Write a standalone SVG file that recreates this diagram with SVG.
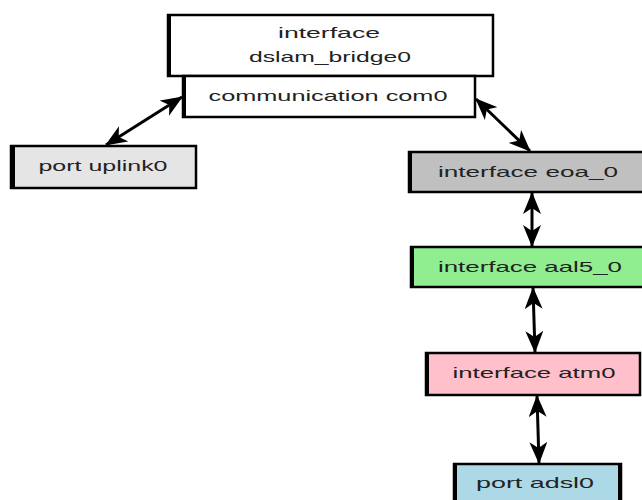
<svg xmlns="http://www.w3.org/2000/svg" width="642" height="500" viewBox="0 0 642 500">
<defs>
<marker id="ah" viewBox="0 0 22 18" refX="21" refY="9" markerWidth="22" markerHeight="18" markerUnits="userSpaceOnUse" orient="auto-start-reverse">
<path d="M0,0 L22,9 L0,18 L6,9 z" fill="#000"/>
</marker>
<style>
.box{stroke:#000;stroke-width:2.5}
.sh{stroke:#000;stroke-width:4}
.t{font-family:"Liberation Sans",Arial,sans-serif;font-size:15px;fill:#222;text-anchor:middle}
.c{stroke:#000;stroke-width:3;fill:none;marker-start:url(#ah);marker-end:url(#ah)}
</style>
</defs>
<rect width="642" height="500" fill="#fff"/>
<g id="connectors">
<line class="c" x1="182" y1="97" x2="106" y2="145"/>
<line class="c" x1="476" y1="99" x2="530" y2="151"/>
<line class="c" x1="532" y1="193" x2="532" y2="246"/>
<line class="c" x1="533" y1="288" x2="535" y2="352"/>
<line class="c" x1="537" y1="396" x2="539" y2="463"/>
</g>
<g id="dslam_bridge0">
<rect class="box" x="168" y="15" width="325" height="61" fill="#fff"/>
<line class="sh" x1="169" y1="14" x2="169" y2="77"/>
<text class="t" x="329" y="38" textLength="102" lengthAdjust="spacingAndGlyphs">interface</text>
<text class="t" x="330" y="62" textLength="162" lengthAdjust="spacingAndGlyphs">dslam_bridge0</text>
</g>
<g id="com0">
<rect class="box" x="183" y="76" width="292" height="41" fill="#fff"/>
<line class="sh" x1="184" y1="76" x2="184" y2="118"/>
<text class="t" x="328" y="101" textLength="239" lengthAdjust="spacingAndGlyphs">communication com0</text>
</g>
<g id="uplink0">
<rect class="box" x="11" y="146" width="185" height="42" fill="#e5e5e5"/>
<line class="sh" x1="13" y1="145" x2="13" y2="189"/>
<text class="t" x="103" y="171" textLength="129" lengthAdjust="spacingAndGlyphs">port uplink0</text>
</g>
<g id="eoa_0">
<rect class="box" x="409" y="152" width="240" height="40" fill="#c0c0c0"/>
<line class="sh" x1="410" y1="151" x2="410" y2="193"/>
<text class="t" x="528" y="177" textLength="180" lengthAdjust="spacingAndGlyphs">interface eoa_0</text>
</g>
<g id="aal5_0">
<rect class="box" x="411" y="247" width="238" height="40" fill="#90ee90"/>
<line class="sh" x1="412" y1="246" x2="412" y2="288"/>
<text class="t" x="530" y="272" textLength="184" lengthAdjust="spacingAndGlyphs">interface aal5_0</text>
</g>
<g id="atm0">
<rect class="box" x="426" y="353" width="214" height="42" fill="#ffc0cb"/>
<line class="sh" x1="427" y1="352" x2="427" y2="396"/>
<text class="t" x="534" y="378" textLength="163" lengthAdjust="spacingAndGlyphs">interface atm0</text>
</g>
<g id="adsl0">
<rect class="box" x="454" y="464" width="167" height="46" fill="#add8e6"/>
<line class="sh" x1="455" y1="463" x2="455" y2="510"/>
<line class="sh" x1="620" y1="463" x2="620" y2="510"/>
<text class="t" x="535" y="488" textLength="118" lengthAdjust="spacingAndGlyphs">port adsl0</text>
</g>
</svg>
